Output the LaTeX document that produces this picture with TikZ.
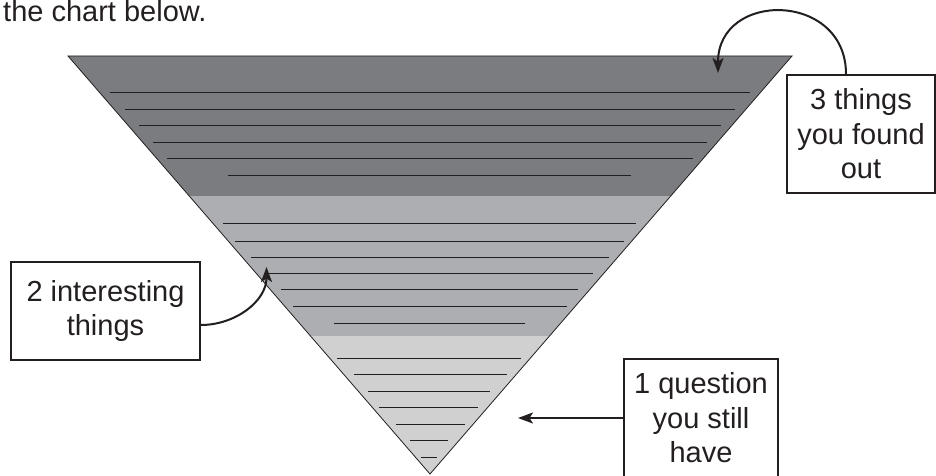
\documentclass[tikz,border=0pt]{standalone}
\usepackage{fontspec}
\setmainfont{Liberation Sans}
\usetikzlibrary{arrows.meta}
\definecolor{bandA}{HTML}{7B7C80}
\definecolor{bandB}{HTML}{ADAEB1}
\definecolor{bandC}{HTML}{D0D0D1}
\definecolor{ink}{HTML}{231F20}

\begin{document}
\begin{tikzpicture}[x=1pt,y=1pt,
  rule/.style={draw=ink, line width=0.9pt},
  labelbox/.style={draw=ink, line width=1.8pt, fill=white, align=center, text=ink,
    font=\fontsize{29}{34.5}\selectfont, inner sep=0pt},
  pointer/.style={draw=ink, line width=2pt, -{Stealth[length=15pt,width=11pt,inset=3.5pt]}}]
\useasboundingbox (0,0) rectangle (936,475);
\clip (0,0) rectangle (936,475);
\node[anchor=base west, inner sep=0pt, text=ink, font=\fontsize{29}{34.5}\selectfont] (intro) at (3,453) {the chart below.};
% the three bands
\fill[bandA] (68,419)--(792,419)--(670.8,279)--(189.2,279)--cycle;
\fill[bandB] (189.2,279)--(670.8,279)--(549.5,139)--(310.5,139)--cycle;
\fill[bandC] (310.5,139)--(549.5,139)--(430,1)--cycle;
\draw[ink, line width=0.8pt] (68,419)--(792,419)--(430,1)--cycle;
% writing lines
\foreach \y/\a/\b in {383/110/750, 366/125/735, 350/139/721, 333/153/707, 317/167/693, 300/228/631,
  252/223/636, 234/235/624, 218/251/609, 202/267/593, 186/281/578, 169/293/567, 152/334/525,
  117/337/521, 101/354/507, 84/368/490, 68/379/478, 51/396/465, 35/410/448, 18/421/437}
  \draw[rule] (\a,\y)--(\b,\y);
% boxes
\node[labelbox, minimum width=148pt, minimum height=118pt] (found) at (861,341) {3 things\\you found\\out};
\node[labelbox, minimum width=189pt, minimum height=98pt] (interest) at (105.5,164) {2 interesting\\things};
\node[labelbox, minimum width=154pt, minimum height=118pt] (question) at (701,57) {1 question\\you still\\have};
\coordinate (tipA) at (718,402);
\coordinate (tipB) at (266.5,208);
\coordinate (tipC) at (518,57);
\draw[pointer] ([xshift=-15pt]found.north) to[out=90,in=90,looseness=1.65] (tipA);
\draw[pointer] ([yshift=-14pt]interest.east) to[out=0,in=-90] (tipB);
\draw[pointer] (question.west)--(tipC);
\end{tikzpicture}
\end{document}
